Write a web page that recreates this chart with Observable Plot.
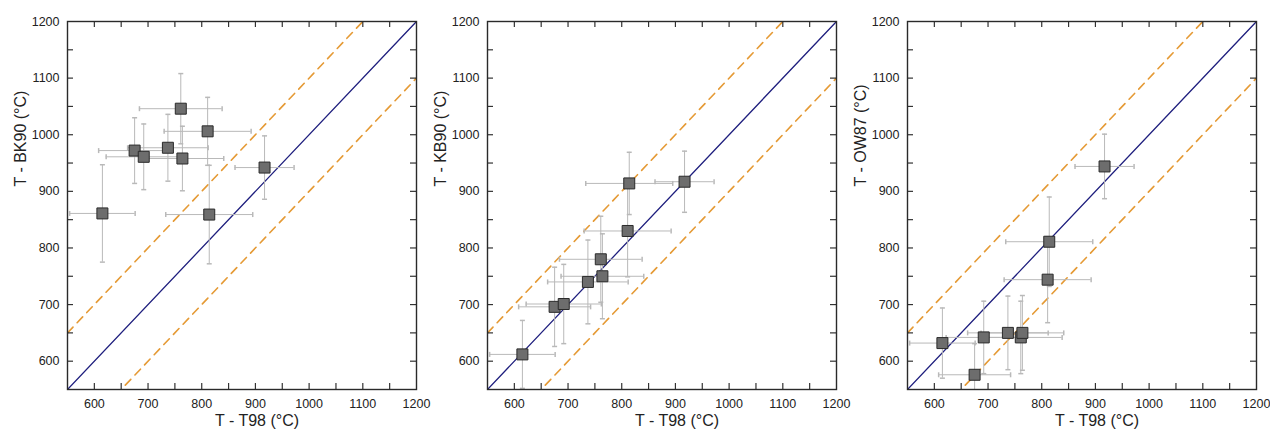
<!DOCTYPE html>
<html><head><meta charset="utf-8">
<script src="https://cdn.jsdelivr.net/npm/d3@7"></script>
<script src="https://cdn.jsdelivr.net/npm/@observablehq/plot@0.6"></script>
<style>
body{margin:0;background:#fff;font-family:"Liberation Sans",Arial,sans-serif;}
#wrap{display:flex;width:1270px;height:430px;background:#fff;}
#wrap svg{overflow:visible;background:transparent !important;}
</style></head><body><div id="wrap"></div>
<script>
// Sample temperatures (T98) and their uncertainties
const t98 = [615, 675, 692, 737, 761, 764, 811, 814, 917];
const t98Err = [61, 67, 70, 75, 77, 77, 81, 81, 55];
// Other thermometers
const bk90 = [861, 972, 961, 977, 1046, 958, 1006, 859, 942];
const bk90Err = [86, 58, 58, 59, 62, 57, 60, 87, 56];
const kb90 = [612, 696, 701, 740, 780, 750, 830, 914, 917];
const kb90Err = [60, 70, 70, 74, 76, 75, 81, 55, 54];
const ow87 = [632, 576, 642, 650, 642, 650, 744, 811, 944];
const ow87Err = [62, 55, 64, 65, 64, 66, 76, 79, 57];

const panelLabels = ["T - BK90 (°C)", "T - KB90 (°C)", "T - OW87 (°C)"];
const panelValues = [bk90, kb90, ow87];
const panelErrors = [bk90Err, kb90Err, ow87Err];
const xLabel = "T - T98 (°C)";

const axisDomain = [550, 1200];
const labelTicks = [600, 700, 800, 900, 1000, 1100, 1200];
const allTicks = [600, 650, 700, 750, 800, 850, 900, 950, 1000, 1050, 1100, 1150];
const refOffsets = [-100, 100];

const hCap = {draw(ctx, size){const w = Math.sqrt(size/Math.PI); ctx.moveTo(-w,0); ctx.lineTo(w,0);}};
const vCap = {draw(ctx, size){const w = Math.sqrt(size/Math.PI); ctx.moveTo(0,-w); ctx.lineTo(0,w);}};

const wrap = document.getElementById("wrap");
const errColor = "#b9b9b9";
const fmt = d => String(d);

panelLabels.forEach((label, p) => {
  const rows = t98.map((x, i) => ({x, xe: t98Err[i], y: panelValues[p][i], ye: panelErrors[p][i]}));
  const width = p === 2 ? 430 : 420;
  const mL = 67, mR = width - 67 - 349, mT = 21, mB = 41;
  const innerW = 349, innerH = 368;
  const diag = axisDomain.map(v => ({x: v, y: v}));
  const dashed = refOffsets.map(o => axisDomain.map(v => ({x: v, y: v + o, o})));
  const chart = Plot.plot({
    width, height: 430,
    marginLeft: mL, marginRight: mR, marginTop: mT, marginBottom: mB,
    style: {fontSize: "12.5px", fontFamily: "'Liberation Sans', Arial, sans-serif", color: "#222", background: "transparent", overflow: "visible"},
    x: {domain: axisDomain, ticks: labelTicks, tickFormat: fmt, tickSize: 0, tickPadding: 10, label: null},
    y: {domain: axisDomain, ticks: labelTicks, tickFormat: fmt, tickSize: 0, tickPadding: 8, label: null},
    marks: [
      ...dashed.map(d => Plot.line(d, {x: "x", y: "y", stroke: "#e59a35", strokeWidth: 1.6, strokeDasharray: "8,6", clip: true})),
      Plot.line(diag, {x: "x", y: "y", stroke: "#1f1f7e", strokeWidth: 1.3, clip: true}),
      Plot.ruleY(rows, {y: "y", x1: d => d.x - d.xe, x2: d => d.x + d.xe, stroke: errColor, strokeWidth: 1, clip: true}),
      Plot.ruleX(rows, {x: "x", y1: d => d.y - d.ye, y2: d => d.y + d.ye, stroke: errColor, strokeWidth: 1, clip: true}),
      Plot.dot(rows, {x: d => d.x - d.xe, y: "y", symbol: vCap, r: 2.5, stroke: errColor, fill: "none", clip: true}),
      Plot.dot(rows, {x: d => d.x + d.xe, y: "y", symbol: vCap, r: 2.5, stroke: errColor, fill: "none", clip: true}),
      Plot.dot(rows, {x: "x", y: d => d.y - d.ye, symbol: hCap, r: 2.5, stroke: errColor, fill: "none", clip: true}),
      Plot.dot(rows, {x: "x", y: d => d.y + d.ye, symbol: hCap, r: 2.5, stroke: errColor, fill: "none", clip: true}),
      Plot.dot(rows, {x: "x", y: "y", symbol: "square", r: 6.2, fill: "#6d6d6d", stroke: "#2a2a2a", strokeWidth: 1}),
      Plot.tickX(allTicks, {x: d => d, insetTop: innerH - 6, stroke: "#333", strokeWidth: 1.2}),
      Plot.tickX(allTicks, {x: d => d, insetBottom: innerH - 6, stroke: "#333", strokeWidth: 1.2}),
      Plot.tickY(allTicks, {y: d => d, insetRight: innerW - 6, stroke: "#333", strokeWidth: 1.2}),
      Plot.tickY(allTicks, {y: d => d, insetLeft: innerW - 6, stroke: "#333", strokeWidth: 1.2}),
      Plot.frame({stroke: "#2a2a2a", strokeWidth: 1.4}),
      Plot.text([xLabel], {text: d => d, frameAnchor: "bottom", dx: 15, dy: 31, fontSize: 16, fill: "#222", lineAnchor: "middle"}),
      Plot.text([label], {text: d => d, frameAnchor: "left", rotate: -90, dx: -47, dy: -19, fontSize: 16, fill: "#222", lineAnchor: "middle"})
    ]
  });
  wrap.appendChild(chart);
});
</script></body></html>
